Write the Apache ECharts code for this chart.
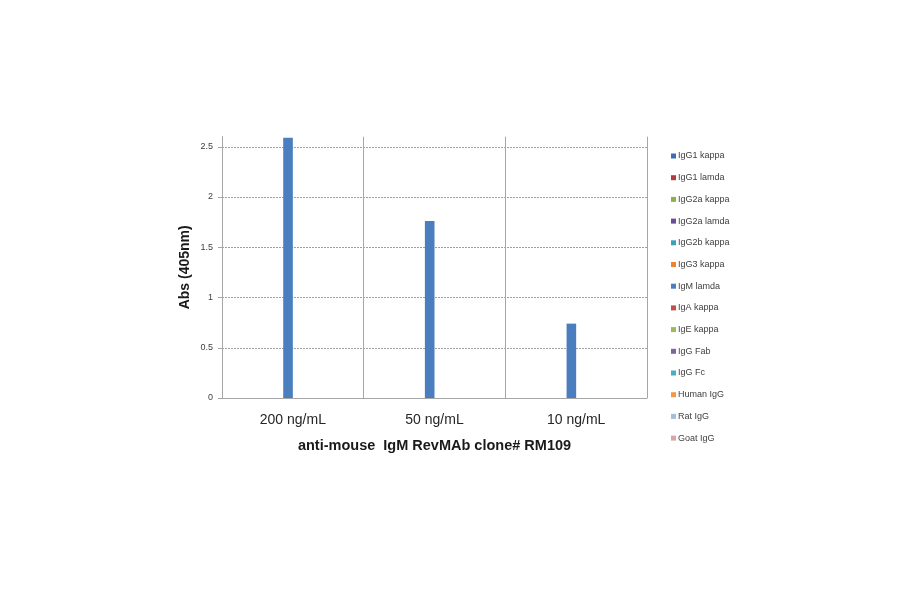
<!DOCTYPE html>
<html>
<head>
<meta charset="utf-8">
<script src="https://cdn.jsdelivr.net/npm/echarts@6/dist/echarts.min.js"></script>
<style>html,body{margin:0;padding:0;background:#fff}#c{width:900px;height:594px}</style>
</head>
<body>
<div id="c"></div>
<script>
const categories = ['200 ng/mL', '50 ng/mL', '10 ng/mL'];
const seriesNames = ['IgG1 kappa', 'IgG1 lamda', 'IgG2a kappa', 'IgG2a lamda', 'IgG2b kappa', 'IgG3 kappa', 'IgM lamda', 'IgA kappa', 'IgE kappa', 'IgG Fab', 'IgG Fc', 'Human IgG', 'Rat IgG', 'Goat IgG'];
const IgG1_kappa = [0, 0, 0];
const IgG1_lamda = [0, 0, 0];
const IgG2a_kappa = [0, 0, 0];
const IgG2a_lamda = [0, 0, 0];
const IgG2b_kappa = [0, 0, 0];
const IgG3_kappa = [0, 0, 0];
const IgM_lamda = [2.59, 1.76, 0.74];
const IgA_kappa = [0, 0, 0];
const IgE_kappa = [0, 0, 0];
const IgG_Fab = [0, 0, 0];
const IgG_Fc = [0, 0, 0];
const Human_IgG = [0, 0, 0];
const Rat_IgG = [0, 0, 0];
const Goat_IgG = [0, 0, 0];
const yTicks = ['0', '0.5', '1', '1.5', '2', '2.5'];

const seriesValues = [IgG1_kappa, IgG1_lamda, IgG2a_kappa, IgG2a_lamda, IgG2b_kappa, IgG3_kappa, IgM_lamda, IgA_kappa, IgE_kappa, IgG_Fab, IgG_Fc, Human_IgG, Rat_IgG, Goat_IgG];
const colors = ['#3F6EB0', '#B83B3B', '#8DB14A', '#6B4E9B', '#3AA0BC', '#F2822F', '#4A7EBE', '#C0504D', '#9BBB59', '#8064A2', '#4BACC6', '#F79646', '#A6BCDD', '#D9A6A6'];

const chart = echarts.init(document.getElementById('c'), null, {renderer: 'canvas'});
const font = 'Liberation Sans, Arial, sans-serif';
chart.setOption({
  animation: false,
  color: colors,
  textStyle: {fontFamily: font},
  grid: {left: 222, right: 253, top: 136.7, bottom: 196, containLabel: false},
  legend: {
    orient: 'vertical', left: 666, top: 146,
    itemWidth: 5, itemHeight: 5, itemGap: 11.7,
    icon: 'rect',
    textStyle: {fontSize: 9, color: '#404040', lineHeight: 10, padding: [0, 0, 0, -3], fontFamily: font},
    data: seriesNames
  },
  xAxis: {
    type: 'category', data: categories,
    name: 'anti-mouse  IgM RevMAb clone# RM109',
    nameLocation: 'middle', nameGap: 40,
    nameTextStyle: {fontSize: 14.5, fontWeight: 'bold', color: '#1a1a1a', fontFamily: font},
    axisLine: {lineStyle: {color: '#A6A6A6', width: 1}},
    axisTick: {show: false},
    axisLabel: {fontSize: 14, color: '#262626', margin: 15, fontFamily: font},
    splitLine: {show: true, lineStyle: {color: '#A6A6A6', width: 1}}
  },
  yAxis: {
    type: 'value', min: 0, max: 2.6, interval: 0.5,
    name: 'Abs (405nm)', nameLocation: 'middle', nameGap: 30, nameRotate: 90,
    nameTextStyle: {fontSize: 14, fontWeight: 'bold', color: '#1a1a1a', fontFamily: font},
    axisLine: {show: true, lineStyle: {color: '#A6A6A6', width: 1}},
    axisTick: {show: true, length: 4, lineStyle: {color: '#A6A6A6'}},
    axisLabel: {fontSize: 9, color: '#404040', margin: 9, showMaxLabel: false,
      formatter: function (v) { const s = String(Math.round(v * 10) / 10); return yTicks.indexOf(s) >= 0 ? s : ''; }},
    splitLine: {show: true, showMaxLine: false, lineStyle: {color: '#A0A0A0', type: [2, 1], width: 1}}
  },
  series: seriesNames.map((n, i) => ({
    name: n, type: 'bar', data: seriesValues[i],
    barGap: '0%', barCategoryGap: '5%'
  }))
});
</script>
</body>
</html>
